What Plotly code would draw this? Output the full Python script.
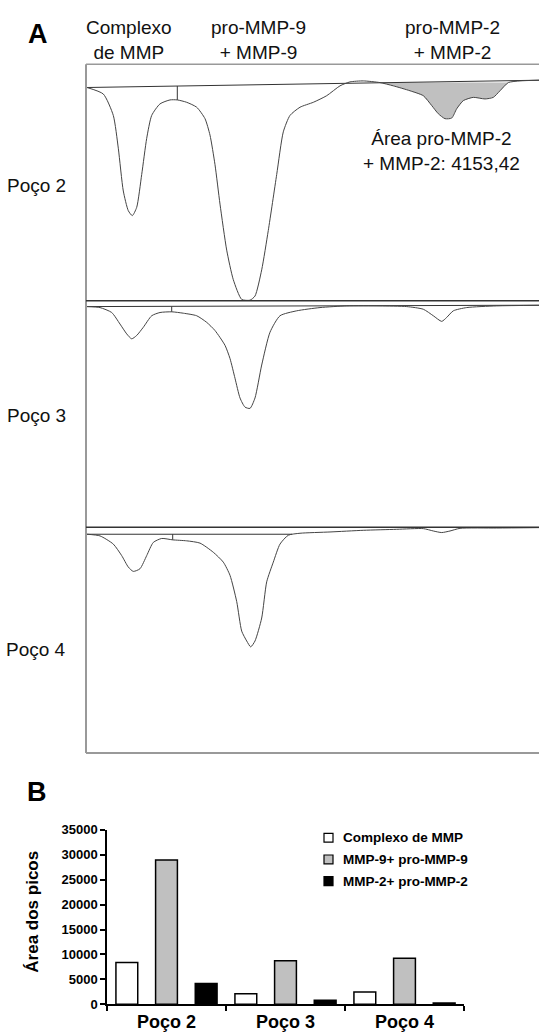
import plotly.graph_objects as go

W, H = 539, 1034
FONT = "Arial, 'Liberation Sans', sans-serif"

# ---------------- Panel A data: densitometric profiles (position, density) ----------------
lane2_pos = [1, 17.3, 27.3, 32.3, 37.3, 42.3, 46.3, 50.7, 55.7, 60.7, 65.7, 74, 84, 91.3, 100.7,
             110.7, 119, 124, 129, 134, 140.7, 147.3, 155.7, 164, 169, 175.7, 182.3, 190.7, 197.3,
             204, 214, 227.3, 240.7, 254, 264, 277.3, 294, 307.3, 324, 337.3, 345.7, 352.3, 359,
             365.7, 370.7, 377.3, 387.3, 399, 407.3, 414, 422.3, 434, 453]
lane2_den = [23.7, 30.3, 52, 85.3, 128.7, 148.7, 153.7, 145.3, 112, 75.3, 52, 40.3, 36.3, 36.3, 38.7,
             43.7, 55.3, 72, 102, 142, 188.7, 218.7, 238.7, 239.5, 235.3, 208.7, 168.7, 112, 68.7,
             52, 43.7, 38.7, 32, 22, 18, 17, 18.7, 22, 27, 32, 42, 50.3, 55.3,
             54.7, 45.3, 37, 33.7, 35.3, 33.7, 27, 18.7, 17, 16.3]

lane3_pos = [1, 14, 25.7, 34, 40.7, 45.7, 50.7, 57.3, 65.7, 74, 85.7, 97.3, 110.7, 120.7, 129, 139,
             144, 149, 154, 159, 164, 169, 175.7, 184, 194, 210.7, 234, 260.7, 294, 320.7, 337.3,
             347.3, 355.7, 360.7, 367.3, 380.7, 410.7, 453]
lane3_den = [6, 7, 12, 23.7, 33.7, 38.7, 35.3, 27, 15.3, 12, 11.3, 12.7, 15.3, 22, 30.3, 45.3,
             58.7, 78.7, 98.7, 108, 109.3, 98.7, 65.3, 32, 15.3, 10.3, 7, 5.3, 5.3, 6, 8.7,
             15.3, 21, 17, 10.3, 7, 5.3, 4.7]

lane4_pos = [1, 14, 27.3, 35.7, 42.3, 47.3, 54, 60.7, 67.3, 75.7, 86.7, 100.7, 114, 127.3, 137.3,
             144, 150.7, 155.7, 160.7, 164.7, 169, 175.7, 180.7, 187.3, 194, 202.3, 214, 244,
             277.3, 310.7, 337.3, 347.3, 355.7, 364, 374, 410.7, 453]
lane4_den = [7, 8.7, 17, 28.7, 40.3, 44.7, 42, 28.7, 15.3, 11.3, 12.7, 13.7, 16, 25.3, 35.3,
             48.7, 75.3, 105.3, 115.3, 121.3, 115.3, 92, 55.3, 35.3, 17, 8, 6, 4.7,
             3, 2, 1.3, 3.7, 5.3, 3.7, 1, 0.7, 0.3]

# baselines (start, end) and the peak-separation marks
lane2_base_pos, lane2_base_den = [0, 453], [23.7, 16.3]
lane3_base_pos, lane3_base_den = [0, 453], [6, 4.6]
lane4_base_pos, lane4_base_den = [0, 206], [7, 7]
lane_marks = {2: (91.3, 22.2, 36.3), 3: (85.7, 6, 11.3), 4: (86.7, 7, 12.7)}

# shaded pro-MMP-2 + MMP-2 area in lane 2 (position window)
shade_from, shade_to = 294, 422.3
area_label = "Área pro-MMP-2<br>+ MMP-2: 4153,42"

# ---------------- Panel B data ----------------
wells = ["Poço 2", "Poço 3", "Poço 4"]
series_names = ["Complexo de MMP", "MMP-9+ pro-MMP-9", "MMP-2+ pro-MMP-2"]
complexo = [8400, 2100, 2480]
mmp9 = [28950, 8750, 9250]
mmp2 = [4153.42, 800, 290]
series_colors = ["#ffffff", "#c0c0c0", "#000000"]

fig = go.Figure()

def X(px):
    return px / W

def Y(py):
    return 1 - py / H

box_l, box_t, box_b = 86, 58, 757
lane_edges = [58, 298, 528, 757]
trace_col = "#444444"

lanes = [(2, lane2_pos, lane2_den, lane2_base_pos, lane2_base_den),
         (3, lane3_pos, lane3_den, lane3_base_pos, lane3_base_den),
         (4, lane4_pos, lane4_den, lane4_base_pos, lane4_base_den)]

for i, (n, pos, den, bpos, bden) in enumerate(lanes):
    ax = i + 2
    xa, ya = f"x{ax}", f"y{ax}"
    top, bot = lane_edges[i], lane_edges[i + 1]
    layout_x = dict(domain=[X(box_l), 1], range=[0, W - box_l], visible=False, fixedrange=True)
    layout_y = dict(domain=[Y(bot), Y(top)], range=[bot - top, 0], visible=False, fixedrange=True)
    fig.update_layout(**{f"xaxis{ax}": dict(anchor=ya, **layout_x),
                         f"yaxis{ax}": dict(anchor=xa, **layout_y)})
    if n == 2:
        sp = [p for p in pos if shade_from <= p <= shade_to]
        sd = [d for p, d in zip(pos, den) if shade_from <= p <= shade_to]
        fig.add_trace(go.Scatter(x=sp, y=sd, xaxis=xa, yaxis=ya, mode="lines", fill="toself",
                                 fillcolor="#c0c0c0", line=dict(color="#c0c0c0", width=0),
                                 showlegend=False, hoverinfo="skip"))
    fig.add_trace(go.Scatter(x=bpos, y=bden, xaxis=xa, yaxis=ya, mode="lines",
                             line=dict(color="#333333", width=1), showlegend=False, hoverinfo="skip"))
    mx, m0, m1 = lane_marks[n]
    fig.add_trace(go.Scatter(x=[mx, mx], y=[m0, m1], xaxis=xa, yaxis=ya, mode="lines",
                             line=dict(color="#333333", width=1), showlegend=False, hoverinfo="skip"))
    fig.add_trace(go.Scatter(x=pos, y=den, xaxis=xa, yaxis=ya, mode="lines",
                             line=dict(color=trace_col, width=1, shape="spline", smoothing=0.6),
                             showlegend=False, hoverinfo="skip"))
    fig.add_annotation(text=f"Poço {n}", xref="paper", yref="paper", x=X(36),
                       y=Y({2: 181, 3: 415, 4: 652}[n]), showarrow=False, xanchor="center",
                       yanchor="middle", font=dict(family=FONT, size=19, color="#111"))

fig.add_annotation(text=area_label, xref="x2", yref="y2", x=441 - box_l, y=146 - 58,
                   showarrow=False, xanchor="center", yanchor="middle", align="center",
                   font=dict(family=FONT, size=19, color="#111"))

# frame of panel A
shapes = []
frame_col = "#999999"
shapes.append(dict(type="line", xref="paper", yref="paper", x0=X(box_l), x1=X(box_l),
                   y0=Y(box_t), y1=Y(box_b), line=dict(color=frame_col, width=2)))
shapes.append(dict(type="line", xref="paper", yref="paper", x0=X(box_l), x1=1,
                   y0=Y(box_t), y1=Y(box_t), line=dict(color=frame_col, width=1.5)))
shapes.append(dict(type="line", xref="paper", yref="paper", x0=X(box_l), x1=1,
                   y0=Y(box_b), y1=Y(box_b), line=dict(color=frame_col, width=2)))
for py in (298, 528):
    shapes.append(dict(type="line", xref="paper", yref="paper", x0=X(box_l), x1=1,
                       y0=Y(py), y1=Y(py), line=dict(color="#333333", width=1.5)))

# header labels of panel A
for txt, cx in [("Complexo<br>de MMP", 129), ("pro-MMP-9<br>+ MMP-9", 258), ("pro-MMP-2<br>+ MMP-2", 452)]:
    fig.add_annotation(text=txt, xref="paper", yref="paper", x=X(cx), y=Y(33), showarrow=False,
                       xanchor="center", yanchor="middle", align="center",
                       font=dict(family=FONT, size=19, color="#111"))
fig.add_annotation(text="<b>A</b>", xref="paper", yref="paper", x=X(38), y=Y(27), showarrow=False,
                   xanchor="center", yanchor="middle", font=dict(family=FONT, size=27, color="#000"))
fig.add_annotation(text="<b>B</b>", xref="paper", yref="paper", x=X(37), y=Y(797), showarrow=False,
                   xanchor="center", yanchor="middle", font=dict(family=FONT, size=27, color="#000"))

# ---------------- Panel B ----------------
for name, vals, col in zip(series_names, [complexo, mmp9, mmp2], series_colors):
    fig.add_trace(go.Bar(x=wells, y=vals, name=name, marker=dict(color=col, line=dict(color="#000", width=1.5)),
                         showlegend=False, xaxis="x", yaxis="y"))

fig.update_layout(
    xaxis=dict(domain=[X(107), X(464)], anchor="y", showline=True, linecolor="#000", linewidth=1.5,
               ticks="outside", tickson="boundaries", ticklen=5, tickwidth=1.5, tickcolor="#000",
               tickfont=dict(family=FONT, size=18, color="#000"), showgrid=False, fixedrange=True,
               tickprefix="<b>", ticksuffix="</b>"),
    yaxis=dict(domain=[Y(1012), Y(835)], anchor="x", range=[0, 35000], dtick=5000, showline=True,
               linecolor="#000", linewidth=1.5, ticks="outside", ticklen=5, tickwidth=1.5,
               tickcolor="#000", tickfont=dict(family=FONT, size=13, color="#000"), showgrid=False,
               zeroline=False, tickprefix="<b>", ticksuffix="</b>", tickformat="d", fixedrange=True),
    barmode="group", bargap=0, bargroupgap=0.45,
)

fig.add_annotation(text="<b>Área dos picos</b>", xref="paper", yref="paper", x=X(33), y=Y(918),
                   textangle=-90, showarrow=False, xanchor="center", yanchor="middle",
                   font=dict(family=FONT, size=17, color="#000"))

# legend (custom)
for k, (name, col) in enumerate(zip(series_names, series_colors)):
    cy = 843 + 22 * k
    shapes.append(dict(type="rect", xref="paper", yref="paper", x0=X(324), x1=X(333),
                       y0=Y(cy + 4.5), y1=Y(cy - 4.5), fillcolor=col, line=dict(color="#000", width=1.2)))
    fig.add_annotation(text=f"<b>{name}</b>", xref="paper", yref="paper", x=X(341), y=Y(cy),
                       showarrow=False, xanchor="left", yanchor="middle",
                       font=dict(family=FONT, size=13.5, color="#000"))

fig.update_layout(shapes=shapes, width=W, height=H, margin=dict(l=0, r=0, t=0, b=0),
                  paper_bgcolor="#fff", plot_bgcolor="rgba(0,0,0,0)", showlegend=False)

fig.write_html("out.html", config={"displayModeBar": False},
               post_script="document.body.style.margin='0';document.body.style.padding='0';"
                           "document.body.style.overflow='hidden';")
